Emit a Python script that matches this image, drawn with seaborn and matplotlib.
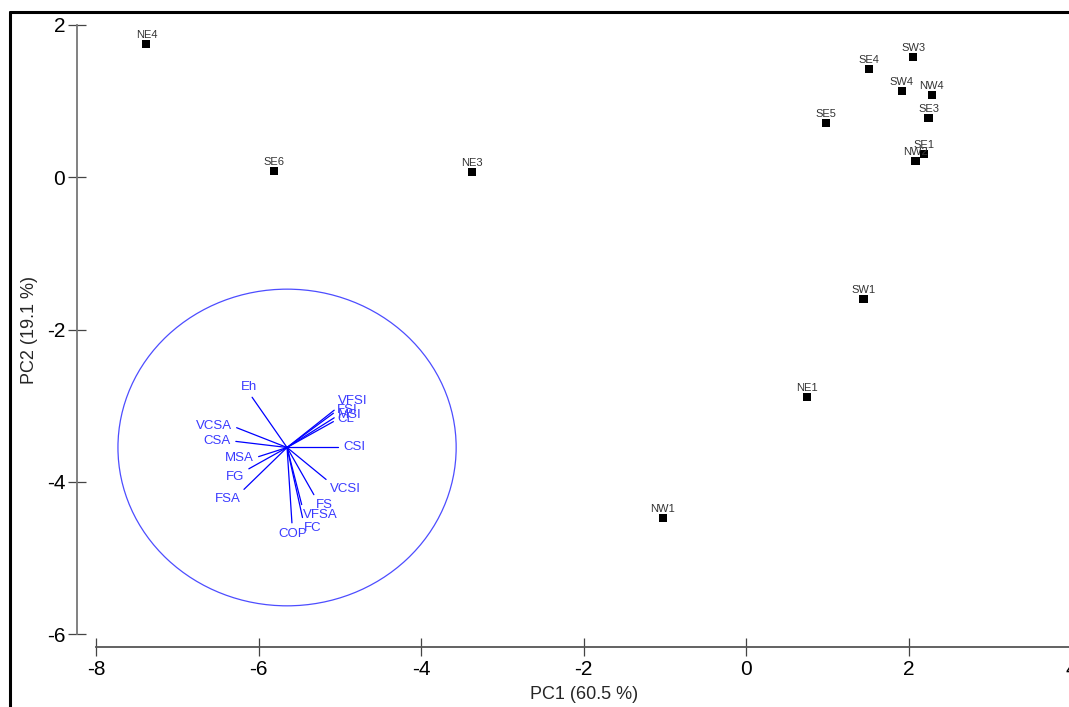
import numpy as np
import pandas as pd
import matplotlib
matplotlib.use("Agg")
import matplotlib.pyplot as plt
from matplotlib.patches import Circle
from matplotlib.lines import Line2D
import seaborn as sns

# sample scores
sites = ["NE4", "SE6", "NE3", "SE4", "SW3", "SW4", "NW4", "SE5", "SE3", "SE1", "NW2", "SW1", "NE1", "NW1"]
pc1 = [-7.38, -5.81, -3.37, 1.51, 2.05, 1.91, 2.28, 0.98, 2.24, 2.19, 2.08, 1.44, 0.74, -1.03]
pc2 = [1.75, 0.08, 0.07, 1.42, 1.58, 1.13, 1.08, 0.71, 0.78, 0.30, 0.21, -1.60, -2.89, -4.48]

# variable vectors (drawn from the circle centre)
variables = ["Eh", "VCSA", "CSA", "MSA", "FG", "FSA", "VFSI", "FSI", "MSI", "CL", "CSI",
             "VCSI", "FS", "VFSA", "FC", "COP"]
load1 = [-0.43, -0.62, -0.63, -0.35, -0.47, -0.53, 0.58, 0.57, 0.58, 0.57, 0.63,
         0.48, 0.33, 0.18, 0.19, 0.06]
load2 = [0.66, 0.26, 0.08, -0.12, -0.28, -0.55, 0.49, 0.45, 0.39, 0.34, 0.0,
         -0.42, -0.62, -0.75, -0.92, -0.99]
centre = (-5.65, -3.55)
radius = 2.08

df = pd.DataFrame({"site": sites, "PC1": pc1, "PC2": pc2})

sns.set_theme(style="white")
plt.rcParams['font.family'] = ['Liberation Sans', 'DejaVu Sans']
plt.rcParams['axes.unicode_minus'] = False

fig = plt.figure(figsize=(10.69, 7.07), dpi=100)
W, H = 1069, 707
ax = fig.add_axes([96 / W, (H - 634) / H, 975.6 / W, 609 / H])

sns.scatterplot(data=df, x="PC1", y="PC2", marker="s", color="black", s=34,
                edgecolor="none", ax=ax, zorder=3)
for _, r in df.iterrows():
    ax.annotate(r["site"], (r["PC1"], r["PC2"]), xytext=(0, 3), textcoords="offset points",
                ha="center", va="bottom", fontsize=8, color="#333333")

# circle + vectors
ax.add_patch(Circle(centre, radius, fill=False, edgecolor="#4d4dff", linewidth=0.9))
sx, sy = 81.3, 76.1  # px per unit, for label placement direction
for name, a, b in zip(variables, load1, load2):
    ex, ey = centre[0] + a, centre[1] + b
    ax.plot([centre[0], ex], [centre[1], ey], color="#0000ff", linewidth=0.9)
    ux, uy = a * sx, b * sy
    n = np.hypot(ux, uy)
    ux, uy = ux / n, uy / n
    ha = "left" if ux > 0.15 else ("right" if ux < -0.6 else "center")
    va = "bottom" if uy > 0.6 else ("top" if uy < -0.4 else "center")
    ax.annotate(name, (ex, ey), xytext=(ux * 3.5, uy * 3.5), textcoords="offset points",
                ha=ha, va=va, fontsize=9.5, color="#3a3aff")

ax.set_xlim(-8, 4)
ax.set_ylim(-6, 2)
ax.set_xticks([-8, -6, -4, -2, 0, 2, 4])
ax.set_yticks([-6, -4, -2, 0, 2])
ax.set_xlabel("PC1 (60.5 %)", fontsize=13, labelpad=5)
ax.set_ylabel("PC2 (19.1 %)", fontsize=13, labelpad=6)

sns.despine(ax=ax, top=True, right=True, offset={"left": 13.7, "bottom": 9.4})
ax.spines["left"].set_bounds(-6, 2)
ax.spines["bottom"].set_bounds(-8, 4)
ax.spines["left"].set_color("#777777")
ax.spines["bottom"].set_color("#555555")
ax.spines["left"].set_linewidth(1.3)
ax.spines["bottom"].set_linewidth(1.3)
ax.tick_params(axis="both", direction="inout", length=13, width=0.9, labelsize=15,
               color="#444444", labelcolor="black", bottom=True, left=True)
ax.tick_params(axis="y", pad=2)
ax.tick_params(axis="x", pad=3)

# outer frame (left and top visible)
fig.add_artist(Line2D([10 / W, 10 / W], [0, 1 - 12 / H], color="black", linewidth=2.2,
                      transform=fig.transFigure))
fig.add_artist(Line2D([10 / W, 1.0], [1 - 12 / H, 1 - 12 / H], color="black", linewidth=2.2,
                      transform=fig.transFigure))

fig.savefig("out.png", dpi=100)
